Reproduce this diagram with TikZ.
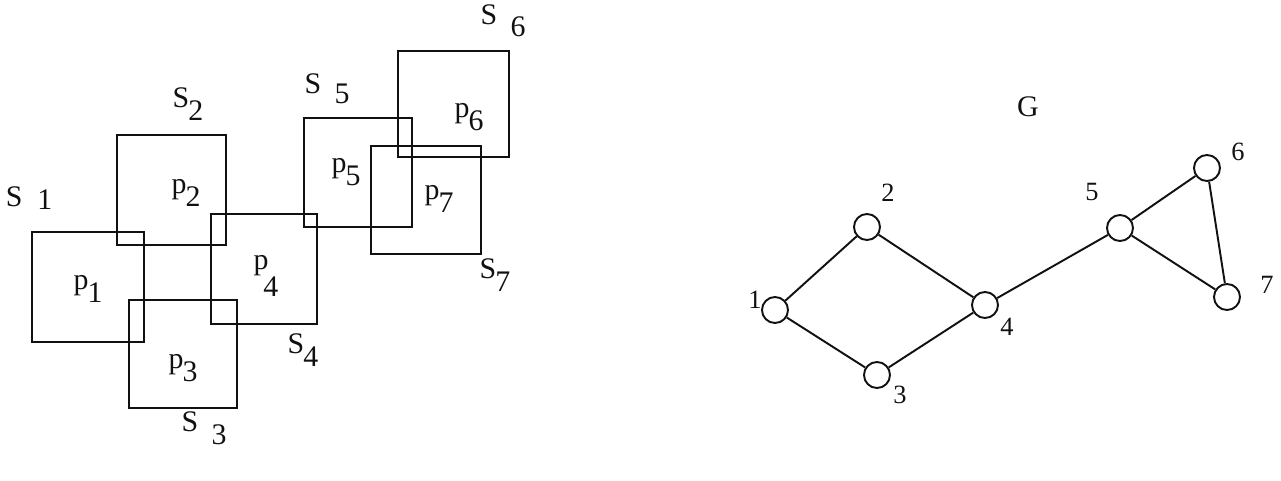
\documentclass[tikz,border=0pt]{standalone}
\usepackage{fontspec}
\setmainfont{Liberation Serif}
\usetikzlibrary{positioning}
\definecolor{ink}{HTML}{111111}
\newcommand{\ix}[2]{#1\kern-0.5pt\raisebox{-0.45em}{#2}}

\begin{document}
\begin{tikzpicture}[
    every node/.style={text=ink},
    lab/.style={font=\fontsize{17}{19}\selectfont, inner sep=0pt},
    num/.style={font=\fontsize{15}{17}\selectfont, inner sep=0pt},
    sq/.style={draw=ink, line width=1.2pt},
    vtx/.style={circle, draw=ink, line width=1.1pt, minimum size=0.52cm, inner sep=0pt},
    link/.style={draw=ink, line width=1.1pt},
]
\useasboundingbox (0,0) rectangle (25.62,9.60);

% ================================================================ the squares
\draw[sq] (0.64,2.76) rectangle (2.88,4.96);
\draw[sq] (2.34,4.70) rectangle (4.52,6.90);
\draw[sq] (2.58,1.44) rectangle (4.74,3.60);
\draw[sq] (4.22,3.12) rectangle (6.34,5.32);
\draw[sq] (6.08,5.06) rectangle (8.24,7.24);
\draw[sq] (7.96,6.46) rectangle (10.18,8.58);
\draw[sq] (7.42,4.52) rectangle (9.62,6.68);

\node[lab] (ls1) at (0.58,5.64) {S\hspace{0.5em}\raisebox{-0.1em}{1}};
\node[lab] (ls2) at (3.76,7.52) {\ix{S}{2}};
\node[lab] (ls3) at (4.08,1.04) {S\hspace{0.45em}\raisebox{-0.45em}{3}};
\node[lab] (ls4) at (6.06,2.60) {\ix{S}{4}};
\node[lab] (ls5) at (6.54,7.82) {S\hspace{0.45em}\raisebox{-0.35em}{5}};
\node[lab] (ls6) at (10.06,9.18) {S\hspace{0.45em}\raisebox{-0.4em}{6}};
\node[lab] (ls7) at (9.90,4.10) {\ix{S}{7}};

\node[lab] (lp1) at (1.76,3.82) {\ix{p}{1}};
\node[lab] (lp2) at (3.72,5.74) {\ix{p}{2}};
\node[lab] (lp3) at (3.66,2.24) {\ix{p}{3}};
\node[lab] (lp4) at (5.32,4.08) {p\kern-3pt\raisebox{-0.9em}{4}};
\node[lab] (lp5) at (6.92,6.16) {\ix{p}{5}};
\node[lab] (lp6) at (9.38,7.26) {\ix{p}{6}};
\node[lab] (lp7) at (8.78,5.62) {\ix{p}{7}};

% ================================================================ the graph G
\node[lab] (gname) at (20.56,7.46) {G};

\node[vtx] (v1) at (15.50,3.40) {};
\node[vtx] (v2) at (17.34,5.06) {};
\node[vtx] (v3) at (17.54,2.10) {};
\node[vtx] (v4) at (19.70,3.50) {};
\node[vtx] (v5) at (22.40,5.04) {};
\node[vtx] (v6) at (24.14,6.24) {};
\node[vtx] (v7) at (24.54,3.66) {};

\node[num] (t1) at (15.10,3.60) {1};
\node[num] (t2) at (17.76,5.74) {2};
\node[num] (t3) at (18.00,1.70) {3};
\node[num] (t4) at (20.14,3.06) {4};
\node[num] (t5) at (21.84,5.76) {5};
\node[num] (t6) at (24.76,6.56) {6};
\node[num] (t7) at (25.34,3.90) {7};

\draw[link] (v1) -- (v2);
\draw[link] (v1) -- (v3);
\draw[link] (v2) -- (v4);
\draw[link] (v3) -- (v4);
\draw[link] (v4) -- (v5);
\draw[link] (v5) -- (v6);
\draw[link] (v5) -- (v7);
\draw[link] (v6) -- (v7);

\end{tikzpicture}
\end{document}
